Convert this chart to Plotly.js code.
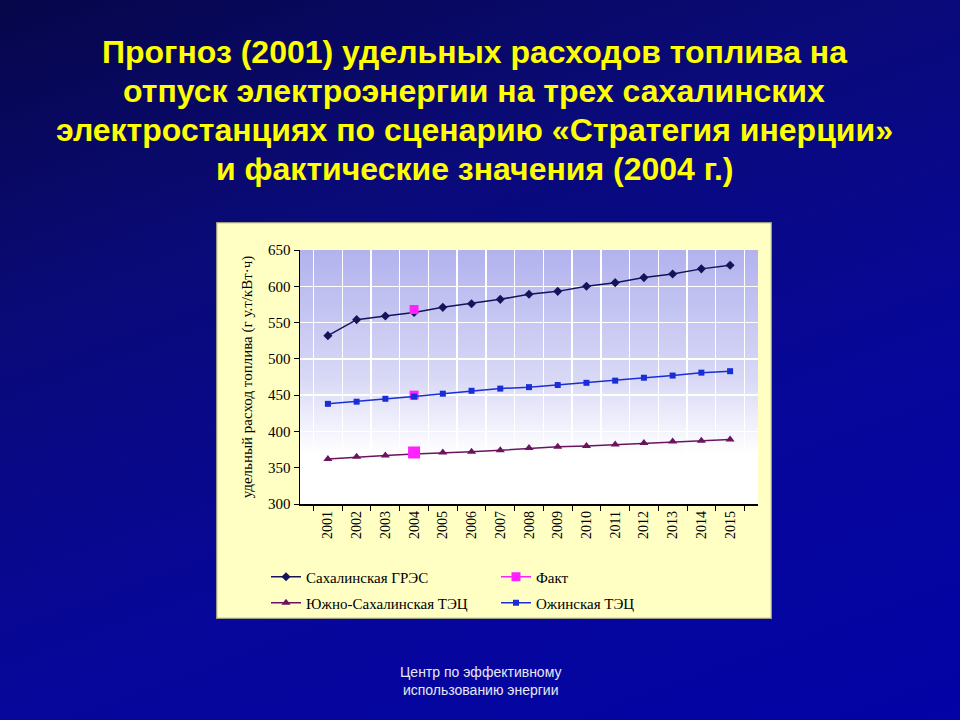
<!DOCTYPE html>
<html>
<head>
<meta charset="utf-8">
<script src="https://cdn.plot.ly/plotly-3.0.1.min.js"></script>
<style>
html,body{margin:0;padding:0;width:960px;height:720px;overflow:hidden;
background:linear-gradient(160deg,#06064a 0%,#0a0a78 30%,#07079a 65%,#0303a6 100%);}
#chart{width:960px;height:720px;}
</style>
</head>
<body>
<div id="chart"></div>
<script>
const years = ["2001","2002","2003","2004","2005","2006","2007","2008","2009","2010","2011","2012","2013","2014","2015"];
const grES = [532,554,559,564,571,576,582,589,593,600,605,612,617,624,629];
const yuzhnoTEC = [362,365,367,369,371,372,374,377,379,380,382,384,386,387,389];
const ozhinskayaTEC = [438,441,445,448,452,456,459,461,464,467,470,474,477,481,483];
// actual (2004) values; null keeps the points unconnected
const faktYears = ["2004","2004","2004"];
const faktValues = [568,null,450];
const faktYuzhnoYear = ["2004"];
const faktYuzhnoValue = [371];
const yTicks = [300,350,400,450,500,550,600,650];

const titleLines = [
  "Прогноз (2001) удельных расходов топлива на",
  "отпуск электроэнергии на трех сахалинских",
  "электростанциях по сценарию «Стратегия инерции»",
  "и фактические значения (2004 г.)"
];

const boxSvg = 'data:image/svg+xml;utf8,' + encodeURIComponent(
  '<svg xmlns="http://www.w3.org/2000/svg" width="556" height="397" viewBox="0 0 556 397" preserveAspectRatio="none">' +
  '<rect x="0.5" y="0.5" width="555" height="396" fill="#ffffc4" stroke="#9a9a80" stroke-width="1.5"/></svg>');
const gradSvg = 'data:image/svg+xml;utf8,' + encodeURIComponent(
  '<svg xmlns="http://www.w3.org/2000/svg" width="100" height="100" viewBox="0 0 100 100" preserveAspectRatio="none">' +
  '<defs><linearGradient id="g" x1="0" y1="0" x2="0" y2="1">' +
  '<stop offset="0" stop-color="#b2b2ee"/><stop offset="0.5" stop-color="#d8d8f6"/><stop offset="0.8" stop-color="#ffffff"/><stop offset="1" stop-color="#ffffff"/>' +
  '</linearGradient></defs><rect width="100" height="100" fill="url(#g)"/></svg>');

const serif = "Liberation Serif, Times New Roman, serif";
const faktColor = "#ff22ff";

const traces = [
  {x: years, y: grES, name: "Сахалинская ГРЭС", type: "scatter", mode: "lines+markers", legend: "legend",
   line: {color: "#14145a", width: 1.5}, marker: {symbol: "diamond", size: 7, color: "#14145a"}},
  {x: faktYears, y: faktValues, name: "Факт", type: "scatter", mode: "lines+markers", connectgaps: false, legend: "legend",
   legendgroup: "fakt", line: {color: faktColor, width: 1.5}, marker: {symbol: "square", size: 9, color: faktColor}},
  {x: years, y: yuzhnoTEC, name: "Южно-Сахалинская ТЭЦ", type: "scatter", mode: "lines+markers", legend: "legend2",
   line: {color: "#6a1460", width: 1.5}, marker: {symbol: "triangle-up", size: 8, color: "#6a1460"}},
  {x: years, y: ozhinskayaTEC, name: "Ожинская ТЭЦ", type: "scatter", mode: "lines+markers", legend: "legend2",
   line: {color: "#1a2ed8", width: 1.5}, marker: {symbol: "square", size: 6, color: "#1a2ed8"}},
  {x: faktYuzhnoYear, y: faktYuzhnoValue, name: "Факт", type: "scatter", mode: "markers", showlegend: false,
   legendgroup: "fakt", marker: {symbol: "square", size: 12, color: faktColor}}
];

const L = 300, R = 758, T = 250, B = 504;
const pw = R - L, ph = B - T;
function px2x(p){ return (p - L) / pw; }
function py2y(p){ return (B - p) / ph; }

const annotations = titleLines.map((t, i) => ({
  text: "<b>" + t + "</b>", xref: "paper", yref: "paper",
  x: px2x(474), y: py2y(52 + i * 39), xanchor: "center", yanchor: "middle",
  showarrow: false, font: {family: "Liberation Sans, Arial, sans-serif", size: 32, color: "#ffff00"}
}));
annotations.push({
  text: "Центр по эффективному<br>использованию энергии", xref: "paper", yref: "paper",
  x: px2x(480), y: py2y(681), xanchor: "center", yanchor: "middle", showarrow: false,
  font: {family: "Liberation Sans, Arial, sans-serif", size: 14, color: "#e8e8f4"}
});

const legendCommon = {orientation: "h", xanchor: "left", yanchor: "middle",
  entrywidth: 185, entrywidthmode: "pixels", bgcolor: "rgba(0,0,0,0)",
  font: {family: serif, size: 15, color: "#000"}, itemwidth: 30};

const layout = {
  width: 960, height: 720,
  margin: {l: L, r: 960 - R, t: T, b: 720 - B, pad: 0},
  paper_bgcolor: "rgba(0,0,0,0)",
  plot_bgcolor: "rgba(0,0,0,0)",
  showlegend: true,
  legend: Object.assign({}, legendCommon, {x: px2x(266), y: py2y(577)}),
  legend2: Object.assign({}, legendCommon, {x: px2x(266), y: py2y(603)}),
  xaxis: {type: "category", categoryorder: "array", categoryarray: years,
          tickson: "boundaries", ticks: "outside", ticklen: 5, tickcolor: "#000",
          tickangle: -90, showgrid: true, gridcolor: "#ffffff", gridwidth: 1.5,
          showline: true, linecolor: "#000", linewidth: 1.5, mirror: false,
          tickfont: {family: serif, size: 14, color: "#000"}, zeroline: false, fixedrange: true},
  yaxis: {range: [300, 650], tickvals: yTicks, ticktext: yTicks.map(String), ticks: "outside", ticklen: 5,
          tickcolor: "#000", showgrid: true, gridcolor: "#ffffff", gridwidth: 1.5,
          showline: true, linecolor: "#000", linewidth: 1.5, zeroline: false,
          tickfont: {family: serif, size: 15, color: "#000"},
          title: {text: "удельный расход топлива (г у.т/кВт·ч)", standoff: 12,
                  font: {family: serif, size: 15, color: "#000"}}},
  images: [
    {source: boxSvg, xref: "paper", yref: "paper", x: px2x(216), y: py2y(222),
     sizex: (772 - 216) / pw, sizey: (619 - 222) / ph, xanchor: "left", yanchor: "top",
     sizing: "stretch", layer: "below"},
    {source: gradSvg, xref: "paper", yref: "paper", x: 0, y: 1, sizex: 1, sizey: 1,
     xanchor: "left", yanchor: "top", sizing: "stretch", layer: "below"}
  ],
  annotations: annotations
};

Plotly.newPlot("chart", traces, layout, {displayModeBar: false, staticPlot: true});
</script>
</body>
</html>
